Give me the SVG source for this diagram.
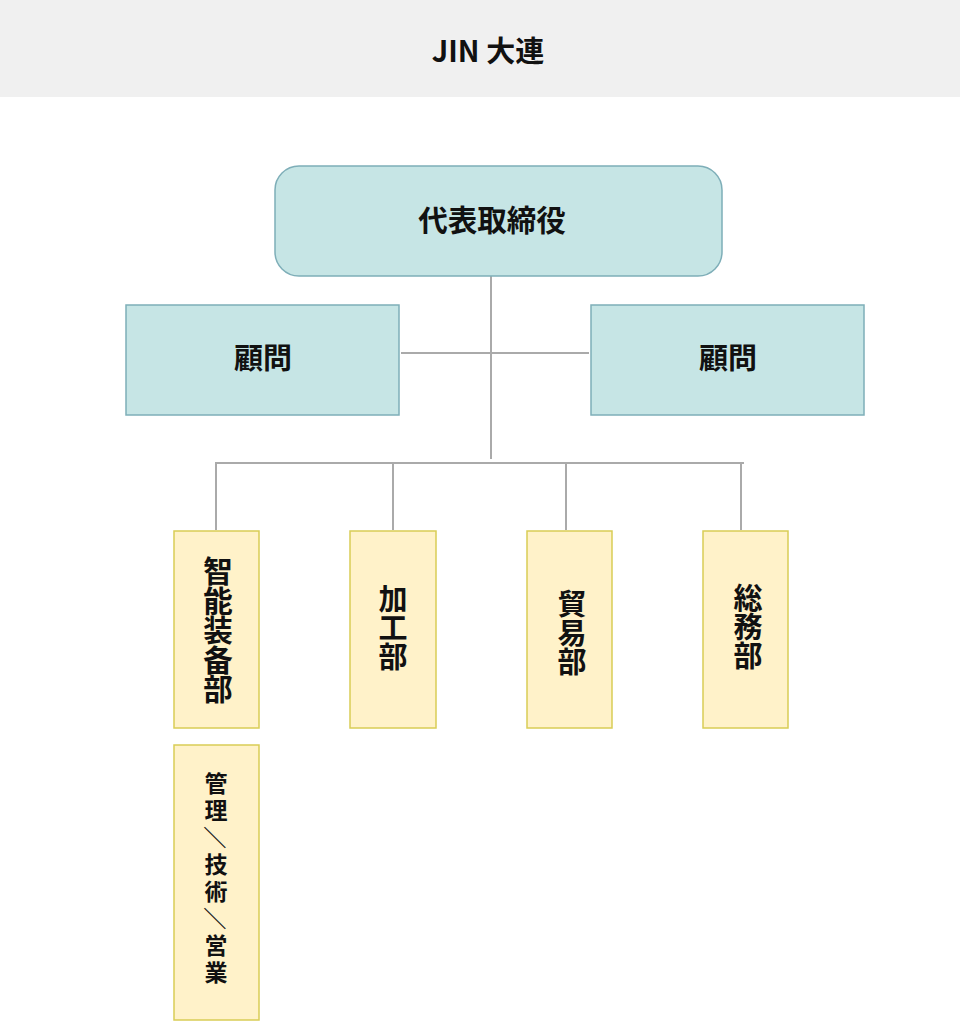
<svg xmlns="http://www.w3.org/2000/svg" width="960" height="1021" viewBox="0 0 960 1021">
<style>
.t{font-family:"Noto Sans CJK JP","Noto Sans",sans-serif;font-weight:bold;fill:#111;}
.blue{fill:#c6e5e5;stroke:#7eaeb8;stroke-width:1.5;}
.yel{fill:#fff2c9;stroke:#d9cd55;stroke-width:1.5;}
.ln{stroke:#aaaaaa;stroke-width:2;fill:none;}
.v{writing-mode:vertical-rl;text-anchor:middle;}
.sw{text-orientation:sideways;}
</style>
<rect x="0" y="0" width="960" height="1021" fill="#ffffff"/>
<g id="header">
<rect x="0" y="0" width="960" height="97" fill="#f0f0f0"/>
<text class="t" x="488" y="62" font-size="29" text-anchor="middle">JIN 大連</text>
</g>
<g id="connectors">
<line class="ln" x1="491" y1="276" x2="491" y2="459"/>
<line class="ln" x1="401" y1="353" x2="589" y2="353"/>
<line class="ln" x1="215" y1="463" x2="744" y2="463"/>
<line class="ln" x1="216" y1="463" x2="216" y2="530"/>
<line class="ln" x1="393" y1="463" x2="393" y2="530"/>
<line class="ln" x1="566" y1="463" x2="566" y2="530"/>
<line class="ln" x1="741" y1="463" x2="741" y2="530"/>
</g>
<g id="ceo">
<rect class="blue" x="275" y="166" width="447" height="110" rx="24"/>
<text class="t" x="492" y="231" font-size="29.5" text-anchor="middle">代表取締役</text>
</g>
<g id="advisor-left">
<rect class="blue" x="126" y="305" width="273" height="110"/>
<text class="t" x="263" y="369" font-size="29" text-anchor="middle">顧問</text>
</g>
<g id="advisor-right">
<rect class="blue" x="591" y="305" width="273" height="110"/>
<text class="t" x="728" y="369" font-size="29" text-anchor="middle">顧問</text>
</g>
<g id="dept-smart">
<rect class="yel" x="174" y="531" width="85" height="197"/>
<text class="t v" x="218" y="630" font-size="29.5">智能装备部</text>
</g>
<g id="dept-processing">
<rect class="yel" x="350" y="531" width="86" height="197"/>
<text class="t v" x="393" y="628" font-size="29">加工部</text>
</g>
<g id="dept-trade">
<rect class="yel" x="527" y="531" width="85" height="197"/>
<text class="t v" x="572" y="633" font-size="29">貿易部</text>
</g>
<g id="dept-general">
<rect class="yel" x="703" y="531" width="85" height="197"/>
<text class="t v" x="748" y="627" font-size="29">総務部</text>
</g>
<g id="sub-smart">
<rect class="yel" x="174" y="745" width="85" height="275"/>
<text class="t v" x="216" y="880" font-size="23" letter-spacing="4">管理<tspan class="sw">／</tspan>技術<tspan class="sw">／</tspan>営業</text>
</g>
</svg>
